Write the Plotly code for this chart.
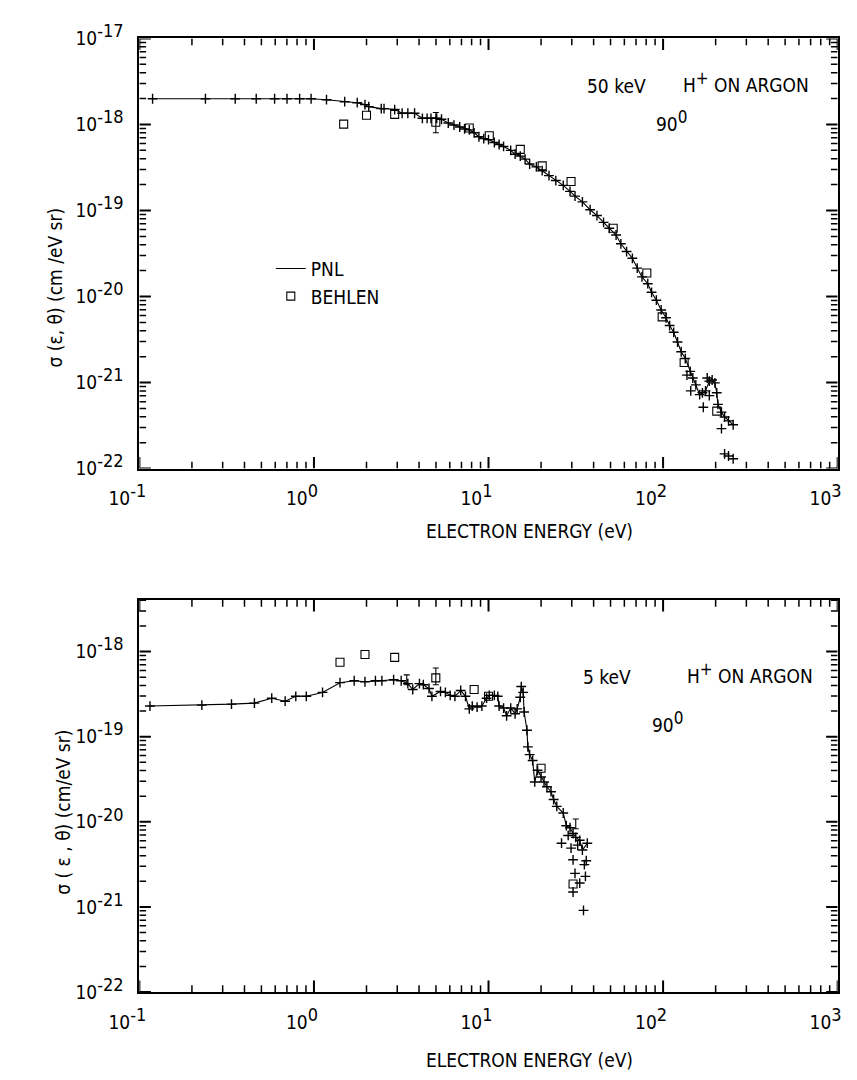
import math
import plotly.graph_objects as go

# ---------------- 50 keV H+ on argon, 90 deg ----------------
top_pnl_ev = [0.119, 0.239, 0.354, 0.467, 0.595, 0.701, 0.828, 0.963, 1.18, 1.50,
              1.77, 1.96, 2.06, 2.43, 2.52, 2.90, 3.20, 3.45, 3.77, 4.18,
              4.45, 4.68, 5.05, 5.38, 5.88, 6.34, 6.84, 7.29, 7.76, 8.27,
              8.81, 9.39, 10.0, 10.8, 11.5, 12.2, 13.4, 14.2, 15.2, 16.2,
              17.2, 18.8, 20.3, 22.2, 24.3, 26.8, 29.3, 31.3, 34.5, 38.2,
              41.8, 45.6, 49.2, 53.8, 57.3, 61.8, 66.7, 71.1, 75.7, 81.7,
              85.9, 91.5, 97.5, 104, 109, 115, 121, 127, 134, 143,
              148, 154, 162, 168, 175, 184, 191, 198, 203, 206,
              216, 225, 237, 252]
top_pnl_sigma = [1.99e-18, 1.99e-18, 1.99e-18, 1.99e-18, 1.99e-18, 1.99e-18, 1.99e-18, 1.99e-18, 1.94e-18, 1.84e-18,
                 1.79e-18, 1.70e-18, 1.61e-18, 1.53e-18, 1.53e-18, 1.49e-18, 1.35e-18, 1.35e-18, 1.35e-18, 1.18e-18,
                 1.18e-18, 1.18e-18, 1.18e-18, 1.15e-18, 1.04e-18, 9.85e-19, 9.35e-19, 8.87e-19, 8.65e-19, 8.0e-19,
                 7.2e-19, 6.84e-19, 6.67e-19, 6.17e-19, 5.85e-19, 5.55e-19, 5.0e-19, 4.51e-19, 4.28e-19, 3.95e-19,
                 3.47e-19, 3.21e-19, 2.90e-19, 2.54e-19, 2.23e-19, 1.96e-19, 1.67e-19, 1.47e-19, 1.26e-19, 1.02e-19,
                 8.73e-20, 7.28e-20, 6.22e-20, 5.19e-20, 4.10e-20, 3.33e-20, 2.78e-20, 2.14e-20, 1.69e-20, 1.41e-20,
                 1.12e-20, 9.06e-21, 6.98e-21, 5.66e-21, 4.60e-21, 3.84e-21, 2.96e-21, 2.28e-21, 1.90e-21, 1.35e-21,
                 1.13e-21, 9.4e-22, 7.24e-22, 7.6e-22, 8.0e-22, 1.04e-21, 1.07e-21, 9.9e-22, 7.6e-22, 5.58e-22,
                 4.53e-22, 3.98e-22, 3.58e-22, 3.23e-22]
top_pnl_scatter_ev = [137, 144, 170, 179, 184, 216, 225, 237, 252]
top_pnl_scatter_sigma = [1.22e-21, 8.0e-22, 5.16e-22, 1.13e-21, 7.05e-22, 2.91e-22, 1.48e-22, 1.40e-22, 1.30e-22]
top_behlen_ev = [1.48, 2.00, 2.90, 4.99, 7.76, 10.1, 15.2, 20.3, 29.7, 51.8, 80.7, 98.8, 132, 203]
top_behlen_sigma = [1.01e-18, 1.28e-18, 1.31e-18, 1.06e-18, 9.1e-19, 7.4e-19, 5.13e-19, 3.30e-19,
                    2.17e-19, 6.22e-20, 1.88e-20, 5.8e-21, 1.71e-21, 4.65e-22]
top_err_ev = [4.99]
top_err_sigma = [1.06e-18]
top_err_plus = [0.32e-18]
top_err_minus = [0.26e-18]

# ---------------- 5 keV H+ on argon, 90 deg ----------------
bot_pnl_ev = [0.115, 0.228, 0.337, 0.456, 0.573, 0.684, 0.787, 0.904, 1.12, 1.41,
              1.70, 1.96, 2.25, 2.45, 2.86, 3.16, 3.45, 3.68, 4.02, 4.23,
              4.56, 4.74, 5.31, 5.66, 6.03, 6.42, 6.93, 7.38, 7.76, 8.07,
              8.60, 9.16, 9.75, 10.1, 10.8, 11.3, 11.5, 12.2, 12.7, 13.4,
              14.2, 14.6, 15.2, 15.4, 15.8, 16.0, 16.6, 16.8, 17.2, 17.9,
              18.4, 19.1, 20.0, 20.8, 21.6, 22.8, 23.6, 24.6, 26.8, 27.9,
              29.3, 30.5, 31.6, 33.3, 34.5, 36.8]
bot_pnl_sigma = [2.29e-19, 2.35e-19, 2.41e-19, 2.48e-19, 2.83e-19, 2.61e-19, 2.98e-19, 2.98e-19, 3.31e-19, 4.31e-19,
                 4.54e-19, 4.42e-19, 4.54e-19, 4.54e-19, 4.66e-19, 4.54e-19, 4.20e-19, 3.58e-19, 4.20e-19, 4.08e-19,
                 3.68e-19, 2.98e-19, 3.40e-19, 3.31e-19, 3.06e-19, 2.98e-19, 3.49e-19, 2.98e-19, 2.12e-19, 2.29e-19,
                 2.23e-19, 2.29e-19, 2.83e-19, 3.06e-19, 3.06e-19, 2.98e-19, 2.29e-19, 2.17e-19, 1.76e-19, 2.17e-19,
                 1.86e-19, 2.12e-19, 2.90e-19, 3.88e-19, 3.31e-19, 1.95e-19, 1.19e-19, 7.59e-20, 6.15e-20, 5.25e-20,
                 2.94e-20, 4.03e-20, 3.36e-20, 2.94e-20, 2.58e-20, 2.26e-20, 1.83e-20, 1.52e-20, 1.27e-20, 9.0e-21,
                 8.53e-21, 7.29e-21, 6.56e-21, 6.07e-21, 4.66e-21, 5.61e-21]
bot_pnl_scatter_ev = [26.2, 28.6, 29.7, 32.4, 30.5, 35.4, 36.3, 31.3, 35.9, 30.5, 33.3, 35.0]
bot_pnl_scatter_sigma = [5.61e-21, 6.92e-21, 4.91e-21, 5.32e-21, 3.58e-21, 3.14e-21, 3.49e-21,
                         2.48e-21, 2.29e-21, 1.50e-21, 1.91e-21, 9.12e-22]
bot_behlen_ev = [1.41, 1.96, 2.90, 4.99, 8.27, 10.0, 20.0, 30.5]
bot_behlen_sigma = [7.49e-19, 9.24e-19, 8.54e-19, 4.91e-19, 3.58e-19, 2.98e-19, 4.26e-20, 1.86e-21]
bot_err_ev = [3.40, 4.99, 31.6]
bot_err_sigma = [4.66e-19, 4.91e-19, 9.5e-21]
bot_err_plus = [0.66e-19, 1.49e-19, 1.3e-21]
bot_err_minus = [0.58e-19, 0.83e-19, 1.2e-21]

x_decades = [-1, 0, 1, 2, 3]
top_y_decades = [-17, -18, -19, -20, -21, -22]
bot_y_decades = [-18, -19, -20, -21, -22]

FONT = "DejaVu Sans Condensed, Liberation Sans Narrow, sans-serif"
INK = "#000000"
W, H = 857, 1080


def power_label(n):
    return "10<sup><span style='font-size:18px'>%d</span></sup>" % n


def minor_positions(lo, hi):
    # 2..9 x 10^n inside every decade of the axis range (log units)
    out = []
    for d in range(math.floor(lo), math.ceil(hi)):
        for m in range(2, 10):
            v = m * 10.0 ** d
            if lo <= math.log10(v) <= hi:
                out.append(v)
    return out


plus_marker = dict(symbol="cross-thin", size=7, line=dict(width=1.4, color=INK), color=INK)
square_marker = dict(symbol="square-open", size=8, line=dict(width=1.1, color=INK), color=INK)

fig = go.Figure()


def add_panel(xa, ya, pnl_x, pnl_y, sc_x, sc_y, b_x, b_y, e_x, e_y, e_p, e_m, legend):
    fig.add_trace(go.Scatter(x=pnl_x, y=pnl_y, mode="lines", line=dict(color=INK, width=1.1),
                             name="PNL", showlegend=legend, xaxis=xa, yaxis=ya))
    fig.add_trace(go.Scatter(x=pnl_x, y=pnl_y, mode="markers", marker=plus_marker,
                             showlegend=False, xaxis=xa, yaxis=ya))
    fig.add_trace(go.Scatter(x=sc_x, y=sc_y, mode="markers", marker=plus_marker,
                             showlegend=False, xaxis=xa, yaxis=ya))
    fig.add_trace(go.Scatter(x=b_x, y=b_y, mode="markers", marker=square_marker,
                             name="BEHLEN", showlegend=legend, xaxis=xa, yaxis=ya))
    fig.add_trace(go.Scatter(x=e_x, y=e_y, mode="markers", marker=dict(size=1, color="rgba(0,0,0,0)"),
                             error_y=dict(type="data", symmetric=False, array=e_p, arrayminus=e_m,
                                          color=INK, thickness=1.1, width=3),
                             showlegend=False, xaxis=xa, yaxis=ya))


def axis(dom, rng, anchor, decades, standoff, shift=0):
    return dict(
        type="log", domain=dom, range=rng, anchor=anchor,
        showline=True, linecolor=INK, linewidth=1.8, mirror=True,
        ticks="", showgrid=False, zeroline=False, tickmode="array",
        tickvals=[10.0 ** d for d in decades],
        ticktext=[power_label(d) for d in decades],
        tickfont=dict(family=FONT, size=19, color=INK),
        ticklabelstandoff=standoff, ticklabelshift=shift, ticklabeloverflow="allow",
    )


def frame_ticks(xa, ya, x_rng, y_rng, x_dom, y_dom, x_dec, y_dec):
    # inward tick marks on all four sides of a panel, sized in pixels
    x_ppd = (x_dom[1] - x_dom[0]) * W / (x_rng[1] - x_rng[0])
    y_ppd = (y_dom[1] - y_dom[0]) * H / (y_rng[1] - y_rng[0])
    sets = [([10.0 ** d for d in x_dec], [10.0 ** d for d in y_dec], 12, 2.0),
            (minor_positions(*x_rng), minor_positions(*y_rng), 7, 1.5)]
    for xv, yv, ln, wd in sets:
        tx, ty = [], []
        dy = ln / y_ppd
        for v in xv:
            tx += [v, v, None, v, v, None]
            ty += [10 ** y_rng[0], 10 ** (y_rng[0] + dy), None,
                   10 ** y_rng[1], 10 ** (y_rng[1] - dy), None]
        dx = ln / x_ppd
        for v in yv:
            tx += [10 ** x_rng[0], 10 ** (x_rng[0] + dx), None,
                   10 ** x_rng[1], 10 ** (x_rng[1] - dx), None]
            ty += [v, v, None, v, v, None]
        fig.add_trace(go.Scatter(x=tx, y=ty, mode="lines", line=dict(color=INK, width=wd),
                                 hoverinfo="skip", showlegend=False, xaxis=xa, yaxis=ya))


x_dom = [113 / W, 841 / W]
top_dom = [1 - 463 / H, 1 - 21 / H]
bot_dom = [1 - 1001 / H, 1 - 598 / H]
x_rng = [-1, 3]
top_rng = [-22, -17]
bot_rng = [-22, -17.394]

frame_ticks("x", "y", x_rng, top_rng, x_dom, top_dom, x_decades, top_y_decades)
frame_ticks("x2", "y2", x_rng, bot_rng, x_dom, bot_dom, x_decades, bot_y_decades)

add_panel("x", "y", top_pnl_ev, top_pnl_sigma, top_pnl_scatter_ev, top_pnl_scatter_sigma,
          top_behlen_ev, top_behlen_sigma, top_err_ev, top_err_sigma, top_err_plus, top_err_minus, True)
add_panel("x2", "y2", bot_pnl_ev, bot_pnl_sigma, bot_pnl_scatter_ev, bot_pnl_scatter_sigma,
          bot_behlen_ev, bot_behlen_sigma, bot_err_ev, bot_err_sigma, bot_err_plus, bot_err_minus, False)

fig.update_layout(
    xaxis=axis(x_dom, x_rng, "y", x_decades, 12, -12),
    yaxis=axis(top_dom, top_rng, "x", top_y_decades, 10),
    xaxis2=axis(x_dom, x_rng, "y2", x_decades, 12, -12),
    yaxis2=axis(bot_dom, bot_rng, "x2", bot_y_decades, 10),
    width=W, height=H,
    margin=dict(l=0, r=0, t=0, b=0),
    paper_bgcolor="white", plot_bgcolor="white",
    font=dict(family=FONT, size=18, color=INK),
    showlegend=True,
    legend=dict(x=250 / W, y=1 - 238 / H, xanchor="left", yanchor="top",
                bgcolor="rgba(0,0,0,0)", font=dict(family=FONT, size=19, color=INK),
                tracegroupgap=0, itemwidth=30),
)


def label(px, py, text, size=19, angle=0, xanchor="center"):
    fig.add_annotation(x=px / W, y=1 - py / H, xref="paper", yref="paper", text=text,
                       showarrow=False, textangle=angle, xanchor=xanchor, yanchor="middle",
                       font=dict(family=FONT, size=size, color=INK))


# axis titles
label(520, 527, "ELECTRON ENERGY (eV)")
label(520, 1071, "ELECTRON ENERGY (eV)")
label(25, 277, "σ (ε, θ) (cm /eV sr)", angle=-90)
label(33, 816, "σ ( ε , θ) (cm/eV sr)", angle=-90)

# panel captions
label(578, 70, "50 keV", xanchor="left")
label(678, 66, "H<sup><span style='font-size:17px'>+</span></sup> ON ARGON", xanchor="left")
label(650, 106, "90<sup><span style='font-size:17px'>0</span></sup>", xanchor="left")
label(573, 677, "5 keV", xanchor="left")
label(682, 673, "H<sup><span style='font-size:17px'>+</span></sup> ON ARGON", xanchor="left")
label(645, 723, "90<sup><span style='font-size:17px'>0</span></sup>", xanchor="left")

fig.write_html("out.html")
